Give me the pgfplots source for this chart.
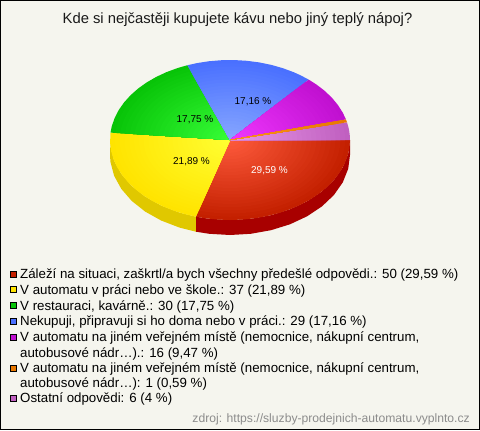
\documentclass[border=0pt]{standalone}
\usepackage{pgfplots}
\usepackage{pgfplotstable}
\usepackage{fontspec}
\setmainfont{Liberation Sans}
\pgfplotsset{compat=1.18}
\definecolor{bgc}{HTML}{F5F5EE}
\definecolor{redE}{HTML}{C42000}\definecolor{redC}{HTML}{FF5C3E}\definecolor{redW}{HTML}{A80000}
\definecolor{yelE}{HTML}{FFE400}\definecolor{yelC}{HTML}{FFFF33}\definecolor{yelW}{HTML}{E0C800}
\definecolor{greE}{HTML}{08C408}\definecolor{greC}{HTML}{38FF38}
\definecolor{bluE}{HTML}{4A70FF}\definecolor{bluC}{HTML}{88A8FF}
\definecolor{magE}{HTML}{C010D0}\definecolor{magC}{HTML}{F038FF}
\definecolor{oraE}{HTML}{E87800}\definecolor{oraC}{HTML}{FF9820}
\definecolor{othE}{HTML}{C060C0}\definecolor{othC}{HTML}{E898E8}
% wedge outlines: angle a (degrees, clockwise from east), relative radius r
\pgfplotstableread[row sep=\\]{a r\\0 0\\0 1\\6 1\\12 1\\18 1\\24 1\\30 1\\36 1\\42 1\\48 1\\54 1\\60 1\\66 1\\72 1\\78 1\\84 1\\90 1\\96 1\\102 1\\106.5 1\\}\tRed
\pgfplotstableread[row sep=\\]{a r\\106.5 0\\106.5 1\\112 1\\118 1\\124 1\\130 1\\136 1\\142 1\\148 1\\154 1\\160 1\\166 1\\172 1\\178 1\\185.3 1\\}\tYel
\pgfplotstableread[row sep=\\]{a r\\185.3 0\\185.3 1\\190 1\\196 1\\202 1\\208 1\\214 1\\220 1\\226 1\\232 1\\238 1\\244 1\\249.2 1\\}\tGre
\pgfplotstableread[row sep=\\]{a r\\249.2 0\\249.2 1\\254 1\\260 1\\266 1\\272 1\\278 1\\284 1\\290 1\\296 1\\302 1\\306 1\\311 1\\}\tBlu
\pgfplotstableread[row sep=\\]{a r\\311 0\\311 1\\316 1\\322 1\\328 1\\334 1\\340 1\\345.1 1\\}\tMag
\pgfplotstableread[row sep=\\]{a r\\345.1 0\\345.1 1\\347.2 1\\}\tOra
\pgfplotstableread[row sep=\\]{a r\\347.2 0\\347.2 1\\352 1\\356 1\\360 1\\}\tOth
% side walls: angle a, d = 0 top rim, 1 bottom rim
\pgfplotstableread[row sep=\\]{a d\\0 0\\10 0\\20 0\\30 0\\40 0\\50 0\\60 0\\70 0\\80 0\\90 0\\100 0\\106.5 0\\106.5 1\\100 1\\90 1\\80 1\\70 1\\60 1\\50 1\\40 1\\30 1\\20 1\\10 1\\0 1\\}\tRedW
\pgfplotstableread[row sep=\\]{a d\\106.5 0\\115 0\\125 0\\135 0\\145 0\\155 0\\165 0\\175 0\\180 0\\180 1\\175 1\\165 1\\155 1\\145 1\\135 1\\125 1\\115 1\\106.5 1\\}\tYelW
\newcommand\wall[2]{\addplot[fill=#2,draw=none] table[x expr={230+120*cos(\thisrow{a})},y expr={140+80*sin(\thisrow{a})+15*\thisrow{d}}] {#1};}
\newcommand\wedgep[3]{\pgfplotsinvokeforeach{100,96,92,88,84,80,76,72,68,64,60,56,52,48,44,40,36,32,28,24,20,16,12,8,4}{%
  \addplot[fill=#2!##1!#3,draw=none] table[x expr={230+1.2*##1*\thisrow{r}*cos(\thisrow{a})},y expr={140+0.8*##1*\thisrow{r}*sin(\thisrow{a})}] {#1};}}
\newcommand\swatch[2]{\addplot[fill=#1,draw=black,line width=0.8bp] coordinates {(10,#2-3) (16,#2-3) (16,#2+3) (10,#2+3) (10,#2-3)};}
\newcommand\leg[2]{\node[anchor=base west,inner sep=0pt,font=\fontsize{13.3bp}{15bp}\selectfont] at (axis cs:20,#1) {#2};}
\begin{document}
\begin{tikzpicture}
\begin{axis}[scale only axis,width=480bp,height=430bp,xmin=0,xmax=480,ymin=0,ymax=430,y dir=reverse,
  axis lines=none,clip=false,axis background/.style={fill=bgc}]
\wall{\tRedW}{redW}
\wall{\tYelW}{yelW}
\wedgep{\tRed}{redE}{redC}
\wedgep{\tYel}{yelE}{yelC}
\wedgep{\tGre}{greE}{greC}
\wedgep{\tBlu}{bluE}{bluC}
\wedgep{\tMag}{magE}{magC}
\wedgep{\tOth}{othE}{othC}
\wedgep{\tOra}{oraE}{oraC}
\swatch{redE}{274}
\swatch{yelE}{289.5}
\swatch{greE}{305.5}
\swatch{bluE}{321}
\swatch{magE}{337}
\swatch{oraE}{368}
\swatch{othE}{398}
\node[font=\fontsize{14.8bp}{17bp}\selectfont,text=black!90] at (axis cs:237.5,20) {Kde si nejčastěji kupujete kávu nebo jiný teplý nápoj?};
\node[font=\fontsize{10bp}{12bp}\selectfont] at (axis cs:253,102) {17,16 \%};
\node[font=\fontsize{10bp}{12bp}\selectfont] at (axis cs:195,120) {17,75 \%};
\node[font=\fontsize{10bp}{12bp}\selectfont] at (axis cs:191.5,162) {21,89 \%};
\node[font=\fontsize{10bp}{12bp}\selectfont,text=white] at (axis cs:269.5,171) {29,59 \%};
\leg{278.5}{Záleží na situaci, zaškrtl/a bych všechny předešlé odpovědi.: 50 (29,59 \%)}
\leg{294}{V automatu v práci nebo ve škole.: 37 (21,89 \%)}
\leg{310}{V restauraci, kavárně.: 30 (17,75 \%)}
\leg{325.5}{Nekupuji, připravuji si ho doma nebo v práci.: 29 (17,16 \%)}
\leg{341.5}{V automatu na jiném veřejném místě (nemocnice, nákupní centrum,}
\leg{357}{autobusové nádr…).: 16 (9,47 \%)}
\leg{372.5}{V automatu na jiném veřejném místě (nemocnice, nákupní centrum,}
\leg{387.5}{autobusové nádr…): 1 (0,59 \%)}
\leg{402.5}{Ostatní odpovědi: 6 (4 \%)}
\node[anchor=base east,inner sep=0pt,font=\fontsize{12.15bp}{14bp}\selectfont,text=black!45] at (axis cs:470,422) {zdroj: https://sluzby-prodejnich-automatu.vyplnto.cz};
\draw[black,line width=1bp] (axis cs:0.5,0.5) rectangle (axis cs:479.5,429.5);
\end{axis}
\end{tikzpicture}
\end{document}
